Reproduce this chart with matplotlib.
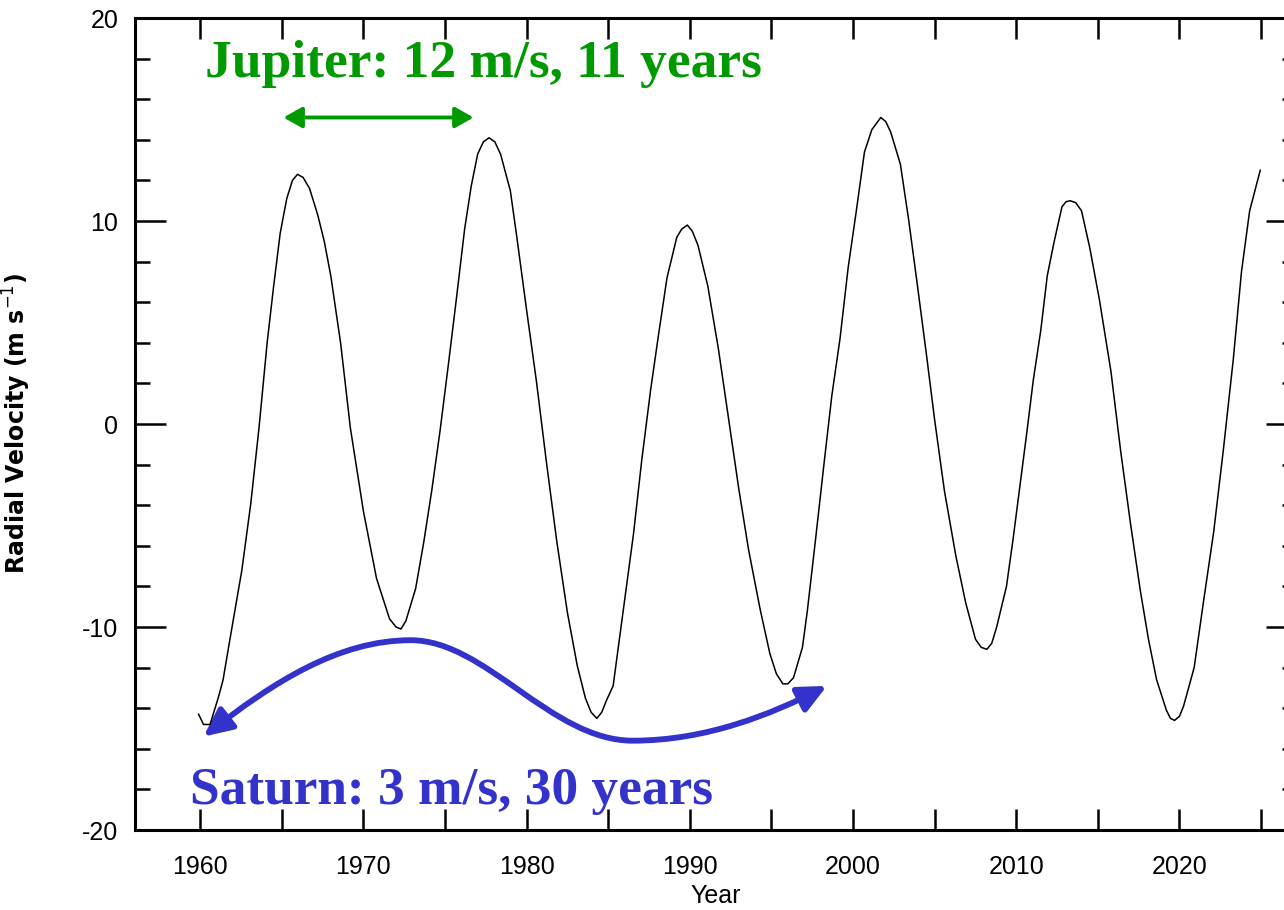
import matplotlib
matplotlib.use("Agg")
import matplotlib.pyplot as plt
from matplotlib.patches import FancyArrowPatch
from matplotlib.path import Path
from matplotlib.ticker import MultipleLocator

plt.rcParams["axes.unicode_minus"] = False

# sun's radial velocity (year, m/s)
year = [1959.9, 1960.2, 1960.6, 1961.1, 1961.4, 1961.8, 1962.25, 1962.55, 1963.1, 1963.6,
        1964.1, 1964.5, 1964.9, 1965.3, 1965.65, 1965.96, 1966.3, 1966.7, 1967.2, 1967.6,
        1968.0, 1968.6, 1969.2, 1970.0, 1970.8, 1971.6, 1972.0, 1972.3, 1972.6, 1973.2,
        1973.7, 1974.2, 1974.7, 1975.2, 1975.7, 1976.2, 1976.6, 1977.0, 1977.35, 1977.7,
        1978.05, 1978.4, 1979.0, 1979.4, 1980.0, 1980.6, 1981.2, 1981.85, 1982.5, 1983.1,
        1983.6, 1983.95, 1984.3, 1984.6, 1984.9, 1985.3, 1985.9, 1986.55, 1987.05, 1987.6,
        1988.1, 1988.6, 1989.2, 1989.5, 1989.85, 1990.15, 1990.5, 1991.1, 1991.75, 1992.4,
        1993.0, 1993.6, 1994.3, 1994.9, 1995.3, 1995.7, 1996.0, 1996.35, 1996.9, 1997.2,
        1997.7, 1998.2, 1998.7, 1999.2, 1999.7, 2000.2, 2000.7, 2001.15, 2001.7, 2002.0,
        2002.3, 2002.9, 2003.4, 2003.9, 2004.5, 2005.0, 2005.6, 2006.3, 2006.9, 2007.5,
        2007.85, 2008.2, 2008.5, 2008.8, 2009.4, 2009.8, 2010.25, 2010.65, 2011.05, 2011.5,
        2011.9, 2012.3, 2012.8, 2013.05, 2013.3, 2013.65, 2014.0, 2014.5, 2015.1, 2015.8,
        2016.4, 2017.0, 2017.6, 2018.1, 2018.6, 2019.2, 2019.45, 2019.7, 2020.0, 2020.25,
        2020.9, 2021.5, 2022.1, 2022.7, 2023.3, 2023.8, 2024.3, 2024.95]
rv = [-14.3, -14.8, -14.8, -13.5, -12.6, -10.7, -8.6, -7.2, -3.9, -0.2,
      4.0, 6.8, 9.4, 11.1, 12.0, 12.3, 12.15, 11.6, 10.3, 9.0,
      7.3, 4.0, -0.2, -4.3, -7.6, -9.6, -10.0, -10.1, -9.7, -8.1,
      -5.8, -3.2, -0.3, 2.9, 6.2, 9.6, 11.7, 13.3, 13.9, 14.1,
      13.9, 13.3, 11.5, 9.2, 5.6, 2.1, -1.8, -5.8, -9.3, -11.9,
      -13.5, -14.2, -14.5, -14.2, -13.6, -12.9, -9.3, -5.4, -1.8, 1.7,
      4.5, 7.2, 9.2, 9.6, 9.8, 9.5, 8.8, 6.8, 3.7, 0.1,
      -3.2, -6.2, -9.1, -11.3, -12.3, -12.8, -12.8, -12.5, -11.0, -9.2,
      -5.7, -2.1, 1.4, 4.2, 7.7, 10.5, 13.4, 14.5, 15.1, 14.9,
      14.4, 12.8, 10.1, 7.1, 3.4, 0.2, -3.3, -6.5, -8.8, -10.6,
      -11.0, -11.1, -10.8, -10.0, -8.0, -5.7, -2.9, -0.4, 2.2, 4.6,
      7.3, 8.9, 10.7, 10.95, 11.0, 10.9, 10.5, 8.7, 6.1, 2.6,
      -1.35, -4.9, -8.2, -10.6, -12.6, -14.1, -14.5, -14.6, -14.4, -13.9,
      -12.0, -8.6, -5.3, -1.2, 3.2, 7.5, 10.5, 12.5]

jup_label = "Jupiter: 12 m/s, 11 years"
sat_label = "Saturn: 3 m/s, 30 years"
jup_ends = [1965.1, 1976.75]   # green arrow, one Jupiter period
jup_level = 15.1
# blue arrow: start point then three cubic pieces (hump, dip, tail)
sat_x = [1960.2, 1964.5, 1968.5, 1972.9, 1977.5, 1981.5, 1986.5, 1991.0, 1995.0, 1998.4]
sat_y = [-15.4, -12.7, -10.65, -10.65, -10.65, -15.6, -15.6, -15.6, -14.3, -12.9]

green = "#009900"
blue = "#3333cc"

fig = plt.figure(figsize=(12.84, 9.10), dpi=100)
ax = fig.add_axes([0.1051, 0.0879, 0.905, 0.8923])

ax.plot(year, rv, color="black", lw=1.1)

ax.set_xlim(1956.0, 2027.2)
ax.set_ylim(-20, 20)
ax.xaxis.set_major_locator(MultipleLocator(10))
ax.xaxis.set_minor_locator(MultipleLocator(5))
ax.yaxis.set_major_locator(MultipleLocator(10))
ax.yaxis.set_minor_locator(MultipleLocator(2))

for s in ax.spines.values():
    s.set_linewidth(2.2)
ax.tick_params(which="both", direction="in", top=True, right=True, width=1.8,
               labelsize=18, colors="black")
ax.tick_params(axis="x", which="both", length=15, pad=18)
ax.tick_params(axis="y", which="major", length=22, pad=12)
ax.tick_params(axis="y", which="minor", length=11)
for lab in ax.get_xticklabels() + ax.get_yticklabels():
    lab.set_family("Liberation Sans")

ax.set_xlabel("Year", fontsize=18, family="Liberation Sans")
ax.xaxis.set_label_coords(0.5, -0.066)
ax.set_ylabel("Radial Velocity (m s$^{-1}$)", fontsize=17, fontweight="bold",
              family="DejaVu Sans")
ax.yaxis.set_label_coords(-0.088, 0.5)

ax.text(1960.3, 17.1, jup_label, color=green, fontsize=38.5, fontweight="bold",
        family="Liberation Serif", va="baseline", ha="left")
ax.text(1959.4, -18.7, sat_label, color=blue, fontsize=38.4, fontweight="bold",
        family="Liberation Serif", va="baseline", ha="left")

ax.annotate("", xy=(jup_ends[1], jup_level), xytext=(jup_ends[0], jup_level),
            arrowprops=dict(arrowstyle="<|-|>,head_length=0.8,head_width=0.45",
                            color=green, lw=2.8, shrinkA=0, shrinkB=0,
                            mutation_scale=14))

codes = [Path.MOVETO] + [Path.CURVE4] * 9
sat_path = Path(list(zip(sat_x, sat_y)), codes)
arr = FancyArrowPatch(path=sat_path, arrowstyle="<|-|>,head_length=0.85,head_width=0.4",
                      mutation_scale=20, color=blue, lw=4.2, clip_on=False)
ax.add_patch(arr)

fig.savefig("out.png", dpi=100)
